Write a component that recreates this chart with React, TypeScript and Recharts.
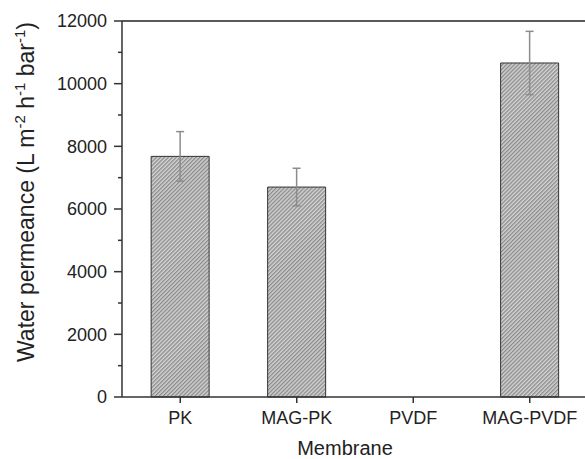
import React from 'react';
import { BarChart, Bar, XAxis, YAxis, ErrorBar, ReferenceLine } from 'recharts';

const membranes = ['PK', 'MAG-PK', 'PVDF', 'MAG-PVDF'];
const permeance = [7680, 6700, 0, 10660];
const permeanceErr = [790, 600, null, 1010];
const yTicks = [0, 1000, 2000, 3000, 4000, 5000, 6000, 7000, 8000, 9000, 10000, 11000, 12000];

const data = membranes.map((name, i) => ({ name, value: permeance[i], err: permeanceErr[i] }));

const FONT = '"Liberation Sans", Arial, sans-serif';

function YTick({ x, y, payload }: any) {
  const major = payload.value % 2000 === 0;
  return (
    <g>
      <line x1={x - (major ? 8 : 4)} x2={x} y1={y} y2={y} stroke="#333" strokeWidth={1.5} />
      {major && (
        <text x={x - 15} y={y} dy="0.36em" textAnchor="end" fontSize={18} fill="#222" fontFamily={FONT}>
          {payload.value}
        </text>
      )}
    </g>
  );
}

function YLabel() {
  return (
    <text transform="translate(34,192) rotate(-90)" textAnchor="middle" fontSize={23} fill="#222" fontFamily={FONT}>
      Water permeance (L m
      <tspan dy={-9} fontSize={15}>-2</tspan>
      <tspan dy={9}> h</tspan>
      <tspan dy={-9} fontSize={15}>-1</tspan>
      <tspan dy={9}> bar</tspan>
      <tspan dy={-9} fontSize={15}>-1</tspan>
      <tspan dy={9}>)</tspan>
    </text>
  );
}

export default function App() {
  return (
    <div style={{ position: 'absolute', left: 0, top: 0, width: 585, height: 459, overflow: 'hidden', background: '#fff' }}>
      <svg width={0} height={0} style={{ position: 'absolute' }}>
        <defs>
          <pattern id="hatch" patternUnits="userSpaceOnUse" width={2.8} height={2.8} patternTransform="rotate(45)">
            <rect width={2.8} height={2.8} fill="#d4d4d4" />
            <line x1={0.7} y1={0} x2={0.7} y2={2.8} stroke="#7c7c7c" strokeWidth={1.1} />
          </pattern>
        </defs>
      </svg>
      <BarChart
        width={588}
        height={459}
        data={data}
        margin={{ top: 21, right: 0, bottom: 0, left: 0 }}
        barCategoryGap="25%"
      >
        <XAxis
          dataKey="name"
          height={62}
          tickSize={6}
          tickMargin={8}
          stroke="#333"
          strokeWidth={1.5}
          tick={{ fontSize: 18, fill: '#222', fontFamily: FONT }}
          label={{ value: 'Membrane', position: 'insideBottom', offset: 4, dx: -10, fontSize: 20, fill: '#222', fontFamily: FONT }}
        />
        <YAxis
          width={122}
          domain={[0, 12000]}
          ticks={yTicks}
          interval={0}
          tickSize={0}
          tickMargin={0}
          tickLine={false}
          stroke="#333"
          strokeWidth={1.5}
          tick={<YTick />}
          label={{ content: () => <YLabel /> }}
        />
        <ReferenceLine y={12000} stroke="#222" strokeWidth={1.5} />
        <Bar dataKey="value" fill="url(#hatch)" stroke="#333" strokeWidth={1} isAnimationActive={false}>
          <ErrorBar dataKey="err" width={4} stroke="#8c8c8c" strokeWidth={1.5} />
        </Bar>
      </BarChart>
    </div>
  );
}
